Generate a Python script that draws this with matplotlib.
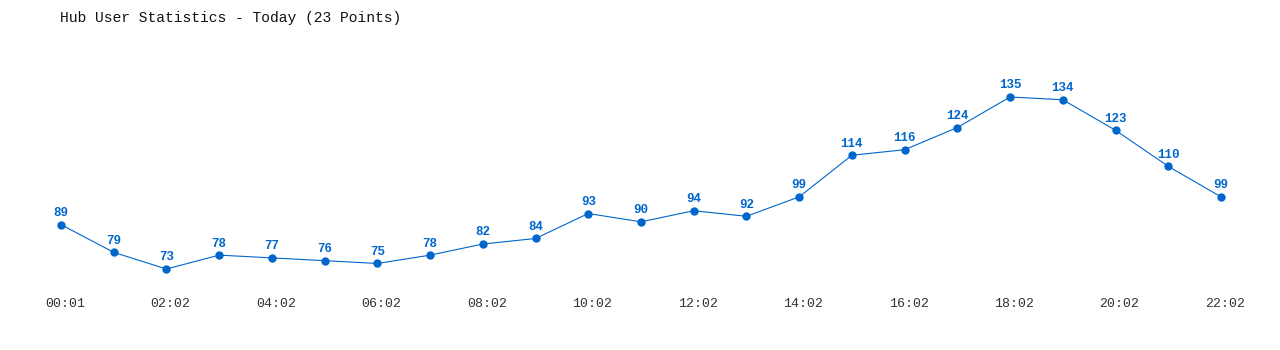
import matplotlib
matplotlib.use("Agg")
import matplotlib.pyplot as plt
from matplotlib.transforms import ScaledTranslation

times = ["00:01", "01:02", "02:02", "03:02", "04:02", "05:02", "06:02", "07:02",
         "08:02", "09:02", "10:02", "11:02", "12:02", "13:02", "14:02", "15:02",
         "16:02", "17:02", "18:02", "19:02", "20:02", "21:02", "22:02"]
users = [89, 79, 73, 78, 77, 76, 75, 78, 82, 84, 93, 90, 94, 92, 99, 114,
         116, 124, 135, 134, 123, 110, 99]

blue = "#0066cc"
mono = ["Liberation Mono", "DejaVu Sans Mono"]

fig = plt.figure(figsize=(12.8, 3.5), dpi=100)
W, H = 1280, 350
# axes spans first/last point horizontally and min/max value vertically
ax = fig.add_axes([61 / W, (H - 269) / H, 1160 / W, 172 / H])

x = list(range(len(users)))
ax.plot(x, users, color=blue, linewidth=0.8, marker="o", markersize=5,
        clip_on=False)
for xi, v in zip(x, users):
    ax.annotate(str(v), (xi, v), xytext=(0, 4), textcoords="offset points",
                ha="center", va="bottom", color=blue, fontsize=9,
                fontweight="bold", family=mono)

ax.set_xlim(0, len(users) - 1)
ax.set_ylim(min(users), max(users))
ax.set_xticks(x[::2])
ax.set_xticklabels(times[::2], family=mono, fontsize=9.5, color="#333333")
ax.tick_params(axis="x", length=0, pad=21)
# labels sit a few pixels right of their points in the original
shift = ScaledTranslation(4 / 100, 0, fig.dpi_scale_trans)
for lbl in ax.get_xticklabels():
    lbl.set_transform(lbl.get_transform() + shift)
ax.set_yticks([])
for s in ax.spines.values():
    s.set_visible(False)

fig.text(60 / W, 1 - 18 / H, "Hub User Statistics - Today (23 Points)",
         family=mono, fontsize=10.5, va="center", ha="left", color="#111111")

fig.savefig("out.png", dpi=100)
